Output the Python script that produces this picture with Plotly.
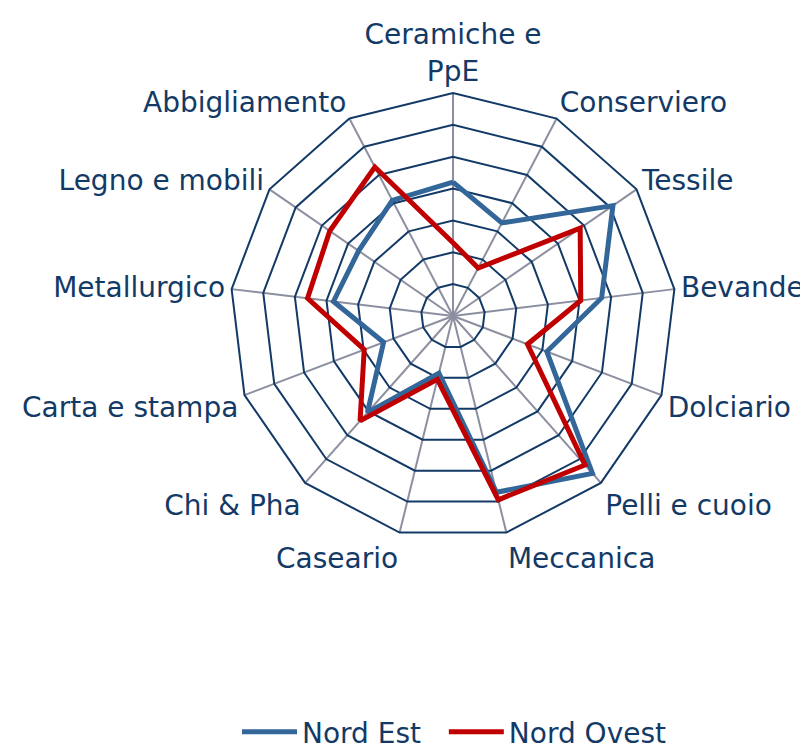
import plotly.graph_objects as go

categories = ["Ceramiche e<br>PpE", "Conserviero", "Tessile", "Bevande", "Dolciario",
              "Pelli e cuoio", "Meccanica", "Caseario", "Chi & Pha", "Carta e stampa",
              "Metallurgico", "Legno e mobili", "Abbigliamento"]
nord_est = [4.2, 3.3, 6.1, 4.7, 3.15, 6.6, 5.7, 1.85, 4.05, 2.33, 3.78, 3.6, 4.1]
nord_ovest = [2.3, 1.7, 4.85, 4.04, 2.5, 6.25, 5.94, 2.05, 4.4, 2.98, 4.6, 4.7, 5.28]
series_names = ["Nord Est", "Nord Ovest"]

NAVY = "#133A66"
fig = go.Figure()
fig.add_trace(go.Scatterpolar(r=nord_est + nord_est[:1], theta=categories + categories[:1],
                              mode="lines", name=series_names[0] + "\u00a0\u00a0",
                              line=dict(color="#336699", width=5)))
fig.add_trace(go.Scatterpolar(r=nord_ovest + nord_ovest[:1], theta=categories + categories[:1],
                              mode="lines", name=series_names[1],
                              line=dict(color="#C00000", width=5)))

W, H = 808, 749
cx, cy, R = 445, 308, 223
fig.update_layout(
    width=W, height=H,
    margin=dict(l=0, r=0, t=0, b=0),
    paper_bgcolor="white", plot_bgcolor="white",
    font=dict(family="DejaVu Sans", size=28, color=NAVY),
    polar=dict(
        domain=dict(x=[(cx - R) / W, (cx + R) / W], y=[(H - cy - R) / H, (H - cy + R) / H]),
        gridshape="linear",
        bgcolor="white",
        angularaxis=dict(rotation=90, direction="clockwise", type="category",
                         categoryarray=categories,
                         showline=True, linecolor=NAVY, linewidth=2,
                         gridcolor="#8C8FA0", gridwidth=2, ticks="",
                         tickfont=dict(size=28, color=NAVY)),
        radialaxis=dict(range=[0, 7], dtick=1, showticklabels=False, ticks="",
                        showline=False, gridcolor=NAVY, gridwidth=2),
    ),
    legend=dict(orientation="h", x=229 / W, xanchor="left", y=0.0, yanchor="bottom",
                font=dict(size=28, color=NAVY), itemwidth=55),
)
fig.write_html("out.html")
